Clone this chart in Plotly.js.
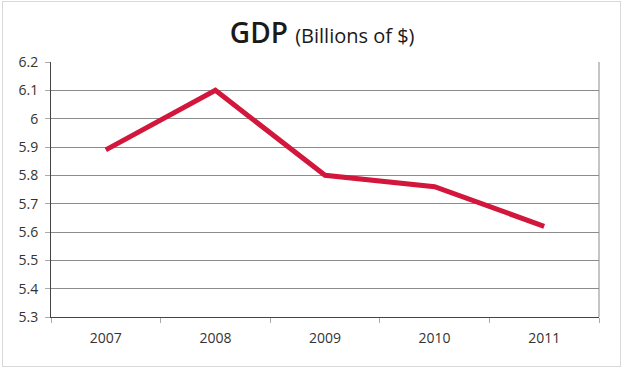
<!DOCTYPE html>
<html>
<head>
<meta charset="utf-8">
<script src="https://cdn.plot.ly/plotly-3.0.1.min.js"></script>
<style>
html,body{margin:0;padding:0;background:#fff;}
#wrap{position:relative;width:622px;height:368px;}
#chart{width:622px;height:368px;}
#frame{position:absolute;left:2px;top:1px;width:617px;height:364px;border:1px solid #d9d9d9;pointer-events:none;}
</style>
</head>
<body>
<div id="wrap"><div id="chart"></div><div id="frame"></div></div>
<script>
const years = ['2007', '2008', '2009', '2010', '2011'];
const gdp = [5.89, 6.1, 5.8, 5.76, 5.62];
const yTicks = [5.3, 5.4, 5.5, 5.6, 5.7, 5.8, 5.9, 6, 6.1, 6.2];

Plotly.newPlot('chart', [{
  x: years,
  y: gdp,
  type: 'scatter',
  mode: 'lines',
  line: {color: '#d2163c', width: 5},
  hoverinfo: 'skip'
}], {
  width: 622,
  height: 368,
  margin: {l: 51, r: 23, t: 62, b: 51},
  paper_bgcolor: '#ffffff',
  plot_bgcolor: '#ffffff',
  showlegend: false,
  font: {family: 'Open Sans, sans-serif', color: '#333333', size: 14},
  title: {
    text: 'GDP <span style="font-size:20px;font-weight:normal">(Billions of $)</span>',
    font: {family: 'Open Sans, sans-serif', size: 28, color: '#1a1a1a', weight: 600},
    x: 0.518, xanchor: 'center', y: 0.91, yanchor: 'middle'
  },
  xaxis: {
    type: 'category',
    range: [-0.5, 4.5],
    tickson: 'boundaries',
    ticks: 'outside', ticklen: 5, tickcolor: '#aaaaaa',
    ticklabelstandoff: 8,
    showgrid: false,
    showline: true, linecolor: '#444444', linewidth: 1,
    tickfont: {size: 14, color: '#333333'},
    fixedrange: true
  },
  yaxis: {
    range: [5.3, 6.2],
    tickvals: yTicks,
    ticktext: yTicks.map(v => String(v)),
    ticks: 'outside', ticklen: 5, tickcolor: '#aaaaaa',
    ticklabelstandoff: 4,
    showgrid: true, gridcolor: '#8c8c8c', gridwidth: 1,
    showline: true, linecolor: '#444444', linewidth: 1,
    zeroline: false,
    tickfont: {size: 14, color: '#333333'},
    fixedrange: true
  },
  shapes: [{
    type: 'line', xref: 'paper', yref: 'paper',
    x0: 1, x1: 1, y0: 0, y1: 1,
    line: {color: '#8c8c8c', width: 1}
  }]
}, {displayModeBar: false, staticPlot: true});
</script>
</body>
</html>
